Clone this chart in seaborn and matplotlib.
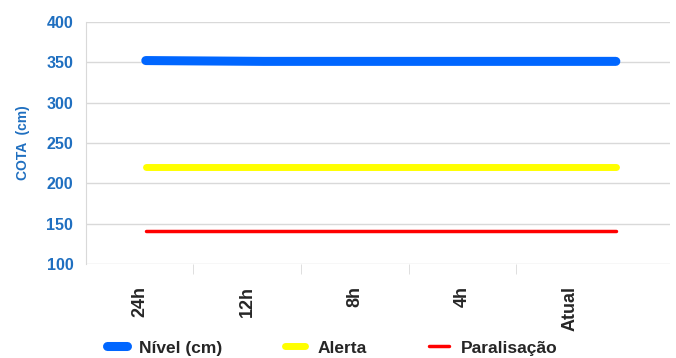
import pandas as pd
import numpy as np
import matplotlib.pyplot as plt
import seaborn as sns

periodos = ['24h', '12h', '8h', '4h', 'Atual']
nivel = [352, 351, 351, 351, 351]
alerta = [220, 220, 220, 220, 220]
paralisacao = [141, 141, 141, 141, 141]

sns.set_style('white')
plt.rcParams['font.family'] = ['Liberation Sans', 'DejaVu Sans']
plt.rcParams['font.weight'] = 'bold'

data = pd.DataFrame({'Periodo': periodos, 'Nível (cm)': nivel,
                     'Alerta': alerta, 'Paralisação': paralisacao})

fig = plt.figure(figsize=(6.76, 3.58), dpi=100)
ax = fig.add_axes([0.127, 0.263, 0.864, 0.676])

estilos = [('Nível (cm)', '#0066FF', 6.5), ('Alerta', '#FFFF00', 5.0), ('Paralisação', '#FF0000', 2.5)]
for nome, cor, lw in estilos:
    sns.lineplot(x='Periodo', y=nome, data=data, ax=ax, color=cor, linewidth=lw,
                 solid_capstyle='round', label=nome, sort=False)

ax.set_ylim(100, 400)
ax.set_yticks(np.arange(100, 401, 50))
ax.set_xlim(-0.51, 4.46)
ax.grid(axis='y', color='#D9D9D9', linewidth=1)
ax.set_axisbelow(True)
for s in ['top', 'right', 'bottom']:
    ax.spines[s].set_visible(False)
ax.spines['left'].set_color('#D9D9D9')
ax.tick_params(axis='y', colors='#D9D9D9', labelcolor='#1F6FC0', labelsize=11.5, length=5, width=1, pad=4)
ax.set_xticks([])
ax.set_xlabel('')
ax.set_ylabel('COTA  (cm)', color='#1F6FC0', fontsize=10, fontweight='bold', labelpad=12)
for t in ax.get_yticklabels():
    t.set_fontweight('bold')

# eixo de categorias
ax2 = ax.twiny()
ax2.set_xlim(-0.5, 4.93)
ax2.xaxis.set_ticks_position('bottom')
ax2.set_xticks(range(len(periodos)))
ax2.set_xticklabels(periodos, rotation=90, fontsize=13, fontweight='bold', va='top')
ax2.set_xticks(np.arange(0.5, len(periodos) - 0.5, 1), minor=True)
ax2.tick_params(axis='x', which='major', length=0, pad=16)
ax2.tick_params(axis='x', which='minor', length=7, color='#D9D9D9')
for s in ax2.spines.values():
    s.set_visible(False)

ax.legend_.remove()
h, l = ax.get_legend_handles_labels()
leg = fig.legend(h, l, loc='center', bbox_to_anchor=(0.492, 0.028), ncol=3, frameon=False,
                 handlelength=1.15, columnspacing=3.6, handletextpad=0.7,
                 prop={'size': 12.5, 'weight': 'bold'})
for ln in leg.get_lines():
    ln.set_solid_capstyle('round')

fig.savefig('out.png', dpi=100)
